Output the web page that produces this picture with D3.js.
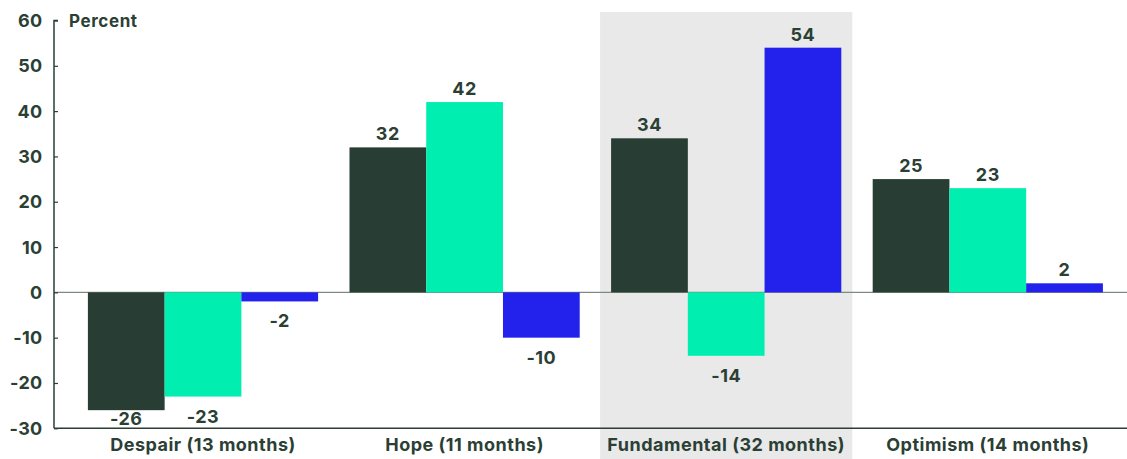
<!DOCTYPE html>
<html>
<head>
<meta charset="utf-8">
<script src="https://cdn.jsdelivr.net/npm/d3@7"></script>
<style>
  html, body { margin: 0; padding: 0; background: #ffffff; }
  svg { display: block; font-family: Inter, "Noto Sans", sans-serif; font-weight: 700; }
</style>
</head>
<body>
<svg id="chart" width="1127" height="459"></svg>
<script>
// Market cycle phases and the return of each series during the phase (percent)
const categories = ["Despair (13 months)", "Hope (11 months)", "Fundamental (32 months)", "Optimism (14 months)"];
const seriesNames = ["s1", "s2", "s3"];
const s1Values = [-26, 32, 34, 25];
const s2Values = [-23, 42, -14, 23];
const s3Values = [-2, -10, 54, 2];
const yTicks = [-30, -20, -10, 0, 10, 20, 30, 40, 50, 60];
const highlighted = "Fundamental (32 months)";
const yTitle = "Percent";

const colors = ["#283d33", "#00efb0", "#2222ec"];
const ink = "#2b3f35";

const rows = categories.map((c, i) => ({
  category: c,
  values: [s1Values[i], s2Values[i], s3Values[i]].map((v, k) => ({ key: seriesNames[k], value: v }))
}));

const svg = d3.select("#chart");
const width = 1127, height = 459;
const axisX = 54;

const y = d3.scaleLinear().domain([-30, 60]).range([428.3, 20.5]);

const x0 = d3.scaleBand()
  .domain(categories)
  .range([72.2, 1118.6])
  .paddingInner(0.12)
  .paddingOuter(0.06);

const x1 = d3.scaleBand()
  .domain(seriesNames)
  .range([0, x0.bandwidth()])
  .padding(0);

const color = d3.scaleOrdinal().domain(seriesNames).range(colors);

// highlighted phase background
const shadeW = x0.bandwidth() + 22;
svg.append("rect")
  .attr("x", x0(highlighted) + x0.bandwidth() / 2 - shadeW / 2)
  .attr("y", 12)
  .attr("width", shadeW)
  .attr("height", height - 12)
  .attr("fill", "#e9e9e9");

// zero line
svg.append("line")
  .attr("x1", axisX).attr("x2", width)
  .attr("y1", y(0)).attr("y2", y(0))
  .attr("stroke", "#7d8a82").attr("stroke-width", 1.2);

// bars
const groups = svg.append("g").selectAll("g")
  .data(rows).join("g")
  .attr("transform", d => `translate(${x0(d.category)},0)`);

groups.selectAll("rect")
  .data(d => d.values).join("rect")
  .attr("x", d => x1(d.key))
  .attr("width", x1.bandwidth())
  .attr("y", d => y(Math.max(0, d.value)))
  .attr("height", d => Math.abs(y(d.value) - y(0)))
  .attr("fill", d => color(d.key));

// value labels (plain hyphen for negatives)
const labelBottomLimit = y(-30) - 3;
groups.selectAll("text")
  .data(d => d.values).join("text")
  .attr("x", d => x1(d.key) + x1.bandwidth() / 2)
  .attr("y", d => {
    if (d.value >= 0) return y(d.value) - 7;
    return Math.min(y(d.value) + 13 + 13, labelBottomLimit);
  })
  .attr("text-anchor", "middle")
  .attr("font-size", 18)
  .attr("letter-spacing", 0.5)
  .attr("fill", ink)
  .text(d => String(d.value));

// y axis
const yAxis = d3.axisRight(y).tickValues(yTicks).tickSize(4).tickFormat("");
const gy = svg.append("g")
  .attr("transform", `translate(${axisX},0)`)
  .call(yAxis);
gy.select(".domain").attr("stroke", ink).attr("stroke-width", 1.5).attr("d", `M4,${y(60)}H0V${y(-30)}`);
gy.selectAll(".tick line").attr("stroke", ink).attr("stroke-width", 1.2);

svg.append("g").selectAll("text")
  .data(yTicks).join("text")
  .attr("x", 42.5)
  .attr("y", d => y(d))
  .attr("dy", "0.36em")
  .attr("text-anchor", "end")
  .attr("font-size", 18)
  .attr("letter-spacing", 0.3)
  .attr("fill", ink)
  .text(d => String(d));

// baseline of the plot
svg.append("line")
  .attr("x1", axisX).attr("x2", width)
  .attr("y1", y(-30)).attr("y2", y(-30))
  .attr("stroke", ink).attr("stroke-width", 1.5);

// category axis labels
svg.append("g").selectAll("text")
  .data(categories).join("text")
  .attr("x", d => x0(d) + x0.bandwidth() / 2)
  .attr("y", 451)
  .attr("text-anchor", "middle")
  .attr("font-size", 18)
  .attr("letter-spacing", 0.5)
  .attr("fill", ink)
  .text(d => d);

// y axis title
svg.append("text")
  .attr("x", 69)
  .attr("y", 27)
  .attr("font-size", 17)
  .attr("letter-spacing", 0.6)
  .attr("fill", ink)
  .text(yTitle);
</script>
</body>
</html>
